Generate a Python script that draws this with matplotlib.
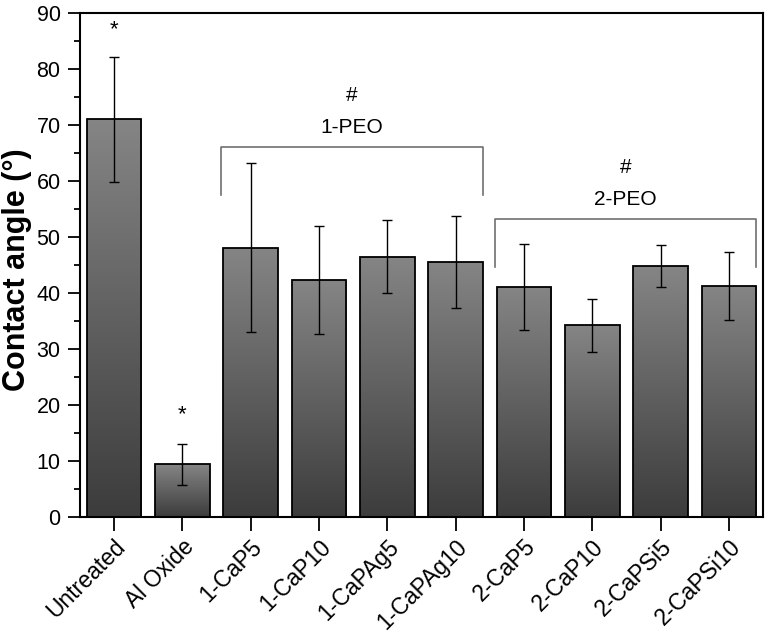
import numpy as np
import matplotlib
matplotlib.use("Agg")
import matplotlib.pyplot as plt
from matplotlib.colors import LinearSegmentedColormap

categories = ["Untreated", "Al Oxide", "1-CaP5", "1-CaP10", "1-CaPAg5", "1-CaPAg10",
              "2-CaP5", "2-CaP10", "2-CaPSi5", "2-CaPSi10"]
means = [71.0, 9.4, 48.1, 42.3, 46.5, 45.6, 41.1, 34.2, 44.8, 41.3]
errors = [11.1, 3.7, 15.1, 9.7, 6.5, 8.2, 7.7, 4.8, 3.8, 6.1]
star_idx = [0, 1]
star_y = [87.0, 18.2]
groups = ["1-PEO", "2-PEO"]
group_span = [(2, 5), (6, 9)]
group_level = [66.0, 53.2]
group_drop = [57.5, 44.6]

plt.rcParams['font.family'] = ['Liberation Sans', 'DejaVu Sans']

fig = plt.figure(figsize=(7.68, 6.33), dpi=100)
ax = fig.add_axes([80/768, 1-517/633, (763-80)/768, (517-13)/633])

x = np.arange(len(categories))
width = 0.8
bars = ax.bar(x, means, width=width, color='none', edgecolor='black', linewidth=1.3, zorder=3)

cmap = LinearSegmentedColormap.from_list("g", ["#3c3c3c", "#858585"])
grad = np.linspace(0, 1, 256).reshape(-1, 1)
for b in bars:
    x0, y0 = b.get_x(), b.get_y()
    w, h = b.get_width(), b.get_height()
    im = ax.imshow(grad, extent=[x0, x0 + w, y0, y0 + h], origin='lower',
                   aspect='auto', cmap=cmap, zorder=2)
    im.set_clip_path(b)

ax.errorbar(x, means, yerr=errors, fmt='none', ecolor='black', elinewidth=1.0,
            capsize=3.6, capthick=1.0, zorder=4)

for i, yy in zip(star_idx, star_y):
    ax.text(x[i], yy, "*", ha='center', va='center', fontsize=16)

for name, (a, b), lvl, drop in zip(groups, group_span, group_level, group_drop):
    xl = x[a] - 0.43
    xr = x[b] + 0.4
    ax.plot([xl, xl, xr, xr], [drop, lvl, lvl, drop], color='#707070', lw=1.2, zorder=3)
    xc = (xl + xr) / 2
    ax.text(xc, lvl + 3.5, name, ha='center', va='center', fontsize=15)
    ax.text(xc, lvl + 9.2, "#", ha='center', va='center', fontsize=15)

ax.set_xlim(-0.5, len(categories) - 0.5)
ax.set_ylim(0, 90)
ax.set_yticks(np.arange(0, 91, 10))
ax.set_yticks(np.arange(5, 90, 10), minor=True)
ax.set_xticks(x)
ax.set_xticklabels(categories, rotation=45, ha='right', rotation_mode='anchor', fontsize=16.5)
ax.tick_params(axis='y', which='major', direction='out', length=9, width=1.3, labelsize=15.5, pad=5, right=False)
ax.tick_params(axis='y', which='minor', direction='out', length=4, width=1.3)
ax.tick_params(axis='x', which='major', direction='out', length=10, width=1.3, pad=3)
for s in ax.spines.values():
    s.set_linewidth(1.5)
ax.set_ylabel("Contact angle (°)", fontsize=22, fontweight='bold')
ax.yaxis.set_label_coords(-0.07, 0.49)

fig.savefig("out.png", dpi=100)
